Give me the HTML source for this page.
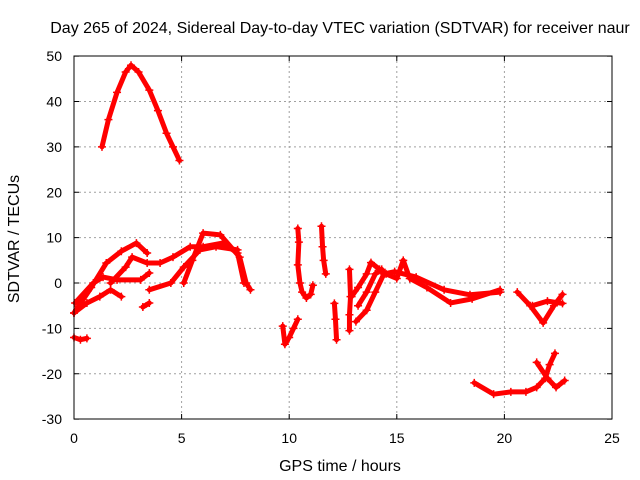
<!DOCTYPE html>
<html><head><meta charset="utf-8"><style>
body{margin:0;background:#fff}
svg{display:block;font-family:"Liberation Sans",sans-serif}
</style></head><body>
<svg id="chart" width="640" height="480" xmlns="http://www.w3.org/2000/svg">
<text x="340" y="33" text-anchor="middle" font-size="16">Day 265 of 2024, Sidereal Day-to-day VTEC variation (SDTVAR) for receiver naur</text>
<text transform="translate(19,239) rotate(-90)" text-anchor="middle" font-size="16">SDTVAR / TECUs</text>
<text x="340" y="471" text-anchor="middle" font-size="16">GPS time / hours</text>
<g id="grid"></g><g id="marks"></g>
<rect x="74" y="56" width="538" height="363" fill="none" stroke="#000" stroke-width="1"/>
</svg>
<script>
const xTicks=[0,5,10,15,20,25];
const yTicks=[-30,-20,-10,0,10,20,30,40,50];
const arcPeak=[[1.3,30],[1.6,36],[2.0,42],[2.4,46.5],[2.65,48],[3.0,46.5],[3.5,42.5],[3.9,38],[4.3,33],[4.6,30],[4.9,27]];
const bandA=[[0,-6.6],[0.8,-1],[1.5,4.4],[2.2,7],[2.9,8.8],[3.4,6.6]];
const bandB=[[5.1,0],[5.5,5],[6.0,11],[6.8,10.6],[7.7,5.7],[8.0,0],[8.2,-1.5]];
const bandC=[[1.7,0],[2.4,3.5],[2.7,5.7],[3.4,4.4],[4.0,4.4],[4.6,5.7],[5.4,8],[6.0,8],[6.9,8.8],[7.6,6.6],[7.9,0]];
const bandD=[[0.05,-4.4],[0.9,0],[1.35,1.3],[2.0,0.7],[3.1,0.7],[3.5,2.2]];
const bandE=[[3.5,-1.5],[4.5,0],[5.1,3.5],[5.85,7.3],[6.6,8],[7.6,7.3]];
const bandF=[[0,-6.6],[0.6,-4.4],[1.2,-3],[1.7,-1.5],[2.2,-3]];
const blobs=[[3.2,-5.3],[3.5,-4.4]];
const lowLeft=[[0,-12],[0.3,-12.5],[0.6,-12.2]];
const spike1=[[10.4,12],[10.45,9],[10.4,4],[10.5,0],[10.6,-2],[10.8,-3.3],[11.0,-2.5],[11.1,-0.5]];
const spike2=[[11.5,12.5],[11.55,8],[11.6,5],[11.7,2]];
const dip10=[[9.7,-9.5],[9.8,-13.5],[10.0,-12],[10.2,-10],[10.4,-8]];
const dip12=[[12.1,-4.5],[12.15,-8],[12.2,-12.5]];
const dip13=[[12.8,3],[12.85,-3],[12.8,-7],[12.8,-10.5]];
const seriesG=[[12.9,-3],[13.2,-1],[13.6,2],[13.8,4.5],[14.2,3],[14.5,2],[15,1],[15.3,5],[15.6,1],[16.4,-1],[17.5,-4.4],[18.5,-3.5],[19.8,-1.5]];
const seriesH=[[13.1,-8.5],[13.6,-6],[14,-2],[14.4,2],[14.9,2.5],[15.9,1.3],[17.2,-1.5],[18.4,-2.6],[19.8,-2]];
const seriesI=[[13.2,-5],[13.6,-2],[14,2],[14.3,3]];
const seriesJ=[[20.6,-2],[21.2,-5],[21.8,-8.8],[22.3,-5],[22.7,-2.5]];
const seriesK=[[21.3,-5],[22,-4],[22.7,-4.5]];
const seriesL=[[18.6,-22],[19.5,-24.5],[20.3,-24],[21,-24],[21.5,-23],[21.9,-21],[22.1,-18],[22.35,-15.5]];
const seriesM=[[21.5,-17.5],[22.0,-21],[22.4,-23],[22.8,-21.5]];
const allSeries=[arcPeak,bandA,bandB,bandC,bandD,bandE,bandF,blobs,lowLeft,spike1,spike2,dip10,dip12,dip13,seriesG,seriesH,seriesI,seriesJ,seriesK,seriesL,seriesM];
const X=h=>74+h*538/25, Y=v=>283-v*363/80;
const NS="http://www.w3.org/2000/svg";
const grid=document.getElementById('grid'), marks=document.getElementById('marks');
function mk(tag,attrs,parent){const e=document.createElementNS(NS,tag);for(const k in attrs)e.setAttribute(k,attrs[k]);parent.appendChild(e);return e;}
xTicks.forEach(t=>{const x=X(t);
 if(t>0&&t<25){const l=mk('line',{x1:x,x2:x,y1:56,y2:419,stroke:'#a0a0a0','stroke-dasharray':'2,3'},grid);
 
 }
 const tx=mk('text',{x:x,y:443,'text-anchor':'middle','font-size':'14'},grid);tx.textContent=t;
 
 
 mk('line',{x1:x,x2:x,y1:419,y2:414,stroke:'#000'},grid);mk('line',{x1:x,x2:x,y1:56,y2:61,stroke:'#000'},grid);});
yTicks.forEach(t=>{const y=Y(t);
 if(t>-30&&t<50){const l=mk('line',{x1:74,x2:612,y1:y,y2:y,stroke:'#a0a0a0','stroke-dasharray':'2,3'},grid);
 
 }
 const tx=mk('text',{x:62,y:y+5,'text-anchor':'end','font-size':'14'},grid);tx.textContent=t;
 
 
 mk('line',{x1:74,x2:79,y1:y,y2:y,stroke:'#000'},grid);mk('line',{x1:612,x2:607,y1:y,y2:y,stroke:'#000'},grid);});
allSeries.forEach(s=>{
 const p=mk('polyline',{points:s.map(d=>X(d[0])+','+Y(d[1])).join(' '),fill:'none',stroke:'#f00','stroke-width':'5','stroke-linejoin':'round','stroke-linecap':'round'},marks);
 
 
 s.forEach(d=>{const x=X(d[0]),y=Y(d[1]);
  const m=mk('path',{d:`M${x-4},${y}h8M${x},${y-4}v8`,stroke:'#f00','stroke-width':'1.5'},marks);
  
  });
});
</script>
</body></html>
